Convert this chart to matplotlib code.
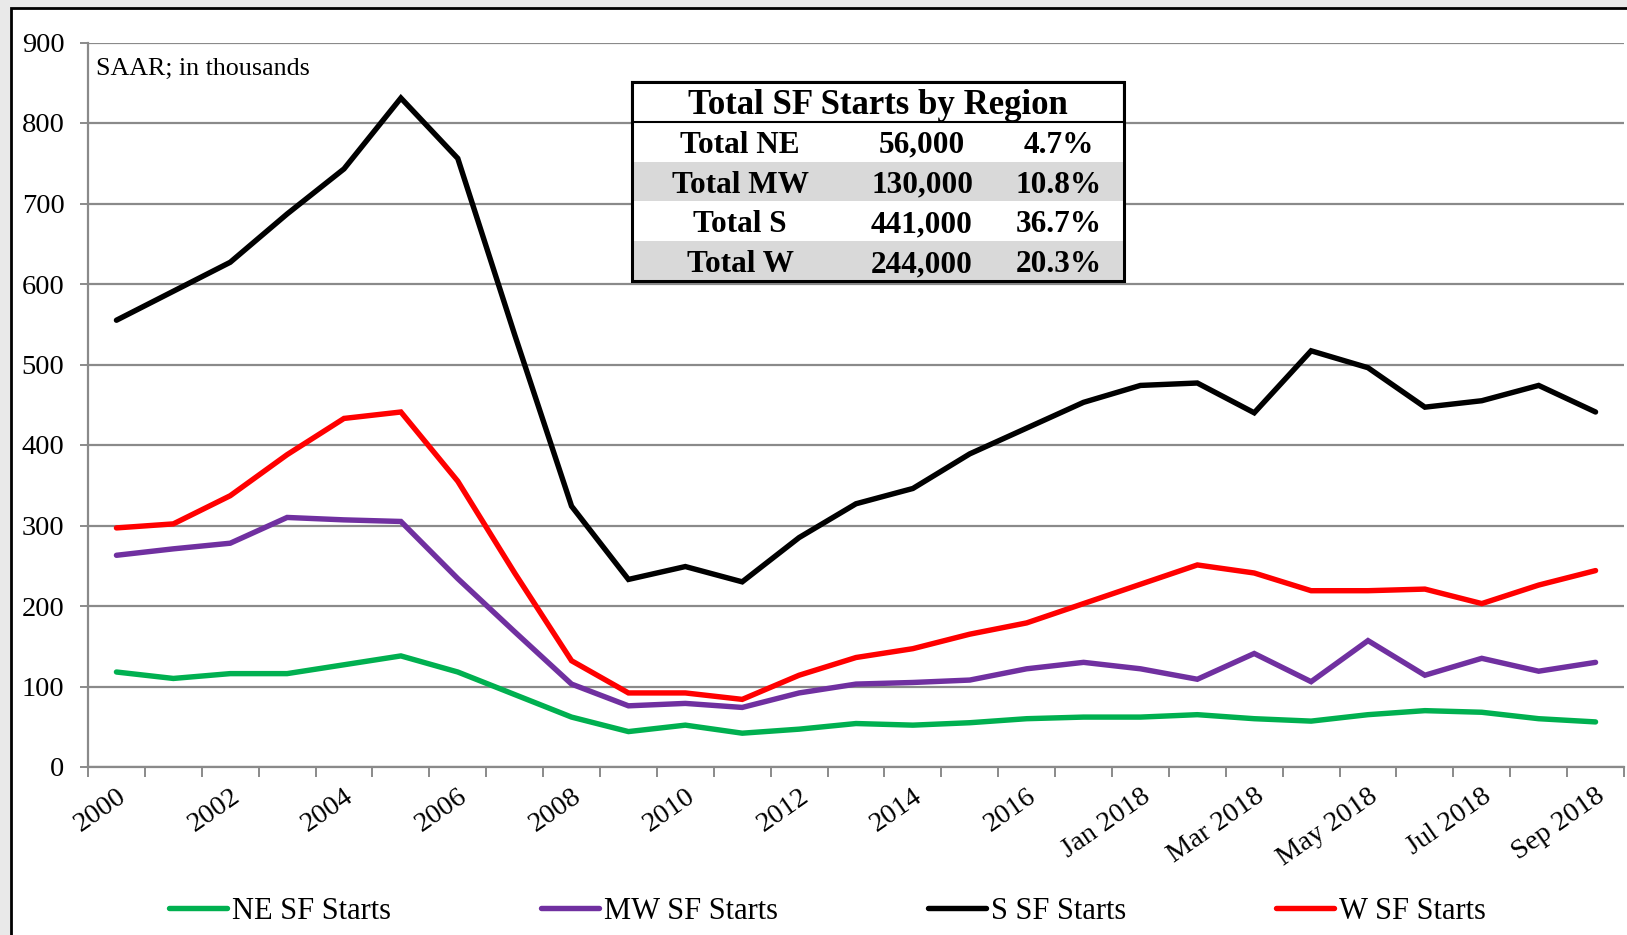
import numpy as np
import matplotlib.pyplot as plt
from matplotlib.patches import Rectangle

plt.rcParams['font.family'] = ['Liberation Serif', 'DejaVu Serif']

categories = [str(y) for y in range(2000, 2018)] + \
	['Jan 2018', 'Feb 2018', 'Mar 2018', 'Apr 2018', 'May 2018',
	 'Jun 2018', 'Jul 2018', 'Aug 2018', 'Sep 2018']

ne = [118, 110, 116, 116, 127, 138, 118, 90, 62, 44, 52, 42, 47, 54, 52, 55, 60, 62,
	  62, 65, 60, 57, 65, 70, 68, 60, 56]
mw = [263, 271, 278, 310, 307, 305, 234, 168, 103, 76, 79, 74, 92, 103, 105, 108, 122, 130,
	  122, 109, 141, 106, 157, 114, 135, 119, 130]
s = [555, 591, 627, 687, 743, 831, 756, 537, 324, 233, 249, 230, 285, 327, 346, 389, 421, 453,
	 474, 477, 440, 517, 496, 447, 455, 474, 441]
w = [297, 302, 337, 388, 433, 441, 355, 241, 132, 92, 92, 84, 114, 136, 147, 165, 179, 203,
	 227, 251, 241, 219, 219, 221, 203, 226, 244]

series_names = ['NE SF Starts', 'MW SF Starts', 'S SF Starts', 'W SF Starts']
series_colors = ['#00B050', '#7030A0', '#000000', '#FF0000']

table_title = 'Total SF Starts by Region'
table_labels = ['Total NE', 'Total MW', 'Total S', 'Total W']
table_values = ['56,000', '130,000', '441,000', '244,000']
table_pcts = ['4.7%', '10.8%', '36.7%', '20.3%']

fig = plt.figure(figsize=(16.27, 9.35), dpi=100)
fig.patch.set_facecolor('#e9e9e9')
# white chart area with black frame on left/top
fig.add_artist(Rectangle((10.5 / 1627, -0.05), 1.2, 1 - 8.5 / 935 + 0.05,
						 transform=fig.transFigure, facecolor='white',
						 edgecolor='black', linewidth=2, zorder=0))

ax = fig.add_axes([88 / 1627, 1 - 767 / 935, (1624 - 88) / 1627, (767 - 42.5) / 935])
ax.set_facecolor('none')

x = np.arange(len(categories))
for vals, name, col in zip([ne, mw, s, w], series_names, series_colors):
	ax.plot(x, vals, color=col, lw=3.9, label=name, solid_joinstyle='miter',
			solid_capstyle='round', zorder=3)

ax.set_xlim(-0.5, len(categories) - 0.5)
ax.set_ylim(0, 900)
ax.set_yticks(np.arange(0, 901, 100))
ax.yaxis.grid(True, color='#8a8a8a', lw=1.6)
ax.set_axisbelow(True)
for sp in ['top', 'right']:
	ax.spines[sp].set_visible(False)
ax.spines['left'].set_color('#8a8a8a')
ax.spines['bottom'].set_color('#8a8a8a')
ax.spines['left'].set_linewidth(1.6)
ax.spines['bottom'].set_linewidth(1.6)
ax.tick_params(axis='y', length=6, width=1.4, color='#8a8a8a', pad=11, labelsize=20.5)

ax.set_xticks(x[::2])
ax.set_xticklabels(categories[::2], rotation=35, ha='right', va='top',
				   rotation_mode='anchor', fontsize=20.5)
ax.tick_params(axis='x', which='major', length=0, pad=12)
ax.set_xticks(np.arange(-0.5, len(categories), 1), minor=True)
ax.tick_params(axis='x', which='minor', length=7, width=1.4, color='#8a8a8a')
for lab in ax.get_xticklabels():
	lab.set_x(lab.get_position()[0])

ax.text(0.0055, 0.963, 'SAAR; in thousands', transform=ax.transAxes,
		fontsize=18.7, va='center', ha='left')

# summary table
tx0, tx1 = 0.354, 0.6745
ty1, ty0 = 0.9455, 0.6708
rh = (ty1 - ty0) / 5
dy = 0.005
for i in range(4):
	yb = ty1 - rh * (i + 2)
	fc = '#d9d9d9' if i % 2 == 1 else 'white'
	ax.add_patch(Rectangle((tx0, yb), tx1 - tx0, rh, transform=ax.transAxes,
						   facecolor=fc, edgecolor='none', zorder=5))
	yc = yb + rh / 2 - dy
	ax.text(0.4245, yc, table_labels[i], transform=ax.transAxes, fontsize=22.5,
			fontweight='bold', ha='center', va='center', zorder=6)
	ax.text(0.543, yc, table_values[i], transform=ax.transAxes, fontsize=22.5,
			fontweight='bold', ha='center', va='center', zorder=6)
	ax.text(0.632, yc, table_pcts[i], transform=ax.transAxes, fontsize=22.5,
			fontweight='bold', ha='center', va='center', zorder=6)
ax.add_patch(Rectangle((tx0, ty1 - rh), tx1 - tx0, rh, transform=ax.transAxes,
					   facecolor='white', edgecolor='black', lw=1.5, zorder=5))
ax.text((tx0 + tx1) / 2, ty1 - rh / 2 - dy, table_title, transform=ax.transAxes,
		fontsize=25, fontweight='bold', ha='center', va='center', zorder=6)
ax.add_patch(Rectangle((tx0, ty0), tx1 - tx0, ty1 - ty0, transform=ax.transAxes,
					   facecolor='none', edgecolor='black', lw=2.2, zorder=7))

fig.legend(loc='center', bbox_to_anchor=(0.5086, 0.025), ncol=4, frameon=False,
		   fontsize=22, handlelength=1.9, handletextpad=0.17, columnspacing=4.9)

fig.savefig('out.png', dpi=100, facecolor=fig.get_facecolor())
